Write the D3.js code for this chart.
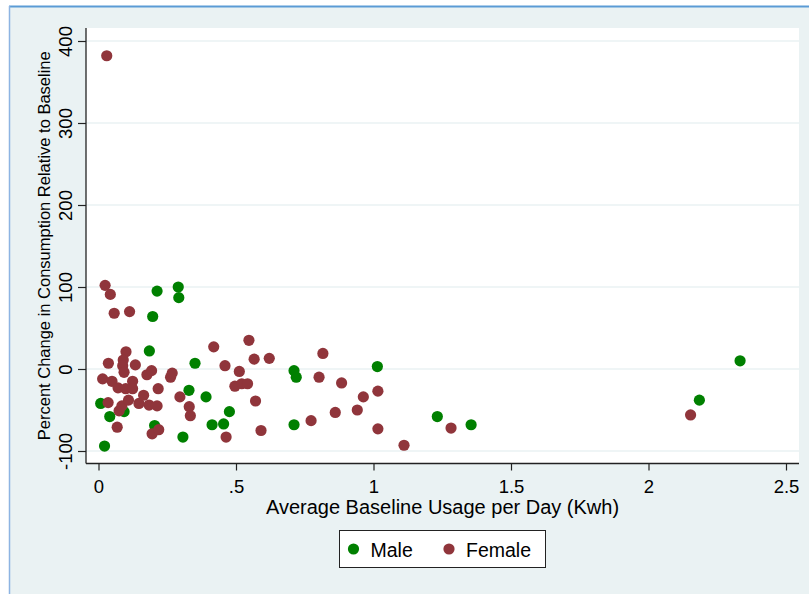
<!DOCTYPE html>
<meta charset="utf-8">
<head>
  <script src="https://cdn.jsdelivr.net/npm/d3@7/dist/d3.min.js"></script>
  <style>
    body { margin: 0; background: #fff; }
    svg { display: block; font-family: "Liberation Sans", Arial, sans-serif; }
    .tick text { fill: #000; }
  </style>
</head>
<body>
<script>

// Datos: [uso promedio (Kwh), cambio porcentual]
var male = [
  [0.008, -42], [0.022, -94], [0.041, -58], [0.093, -52], [0.185, 22],
  [0.197, 64], [0.213, 95], [0.290, 100], [0.292, 87], [0.351, 7],
  [0.329, -26], [0.204, -69], [0.307, -83], [0.391, -34], [0.413, -68],
  [0.455, -67], [0.476, -52], [0.711, -2], [0.719, -10], [0.711, -68],
  [1.014, 3], [1.232, -58], [1.355, -68], [2.185, -38], [2.333, 10]
];
var female = [
  [0.030, 382], [0.024, 102], [0.043, 91], [0.057, 68], [0.113, 70],
  [0.036, 7], [0.015, -12], [0.049, -15], [0.100, 21], [0.090, 11],
  [0.088, 4], [0.093, -4], [0.134, 5], [0.124, -15], [0.071, -23],
  [0.099, -24], [0.124, -24], [0.035, -41], [0.075, -51], [0.085, -45],
  [0.109, -38], [0.147, -42], [0.164, -32], [0.068, -71], [0.176, -7],
  [0.193, -2], [0.184, -44], [0.213, -45], [0.217, -24], [0.195, -79],
  [0.219, -74], [0.262, -10], [0.268, -5], [0.296, -34], [0.330, -46],
  [0.334, -57], [0.419, 27], [0.460, 4], [0.464, -83], [0.512, -3],
  [0.496, -21], [0.521, -18], [0.542, -18], [0.547, 35], [0.566, 12],
  [0.571, -39], [0.591, -75], [0.621, 13], [0.816, 19], [0.802, -10],
  [0.884, -17], [0.963, -34], [1.016, -27], [0.941, -50], [0.861, -53],
  [0.773, -63], [1.016, -73], [1.111, -93], [1.282, -72], [2.153, -56]
];
var xTicks = [0, 0.5, 1, 1.5, 2, 2.5];
var xTickLabels = ["0", ".5", "1", "1.5", "2", "2.5"];
var yTicks = [-100, 0, 100, 200, 300, 400];
var yTickLabels = ["-100", "0", "100", "200", "300", "400"];
var seriesNames = ["Male", "Female"];
var seriesColors = ["#008000", "#90353b"];

var W = 809, H = 594;
// caja del area de grafico
var plot = {left: 86, right: 799, top: 28, bottom: 463.5};

var svg = d3.select("body").append("svg")
  .attr("width", W).attr("height", H);

// fondo estilo Stata
svg.append("rect").attr("x", 9).attr("y", 6).attr("width", W).attr("height", H)
  .attr("fill", "#eaf2f3");
svg.append("line").attr("x1", 9).attr("x2", W).attr("y1", 6.5).attr("y2", 6.5)
  .attr("stroke", "#5b9bd5").attr("stroke-width", 2);
svg.append("line").attr("x1", 9.5).attr("x2", 9.5).attr("y1", 6).attr("y2", H)
  .attr("stroke", "#8db4e2").attr("stroke-width", 1.5);

svg.append("rect")
  .attr("x", plot.left).attr("y", plot.top)
  .attr("width", plot.right - plot.left).attr("height", plot.bottom - plot.top)
  .attr("fill", "#fff");

var xScale = d3.scaleLinear().domain([0, 2.5]).range([98.5, 786]);
var yScale = d3.scaleLinear().domain([-100, 400]).range([451, 41]);

// lineas de grilla
svg.append("g").selectAll("line")
  .data(yTicks)
  .enter().append("line")
  .attr("x1", plot.left).attr("x2", plot.right)
  .attr("y1", function(d) { return yScale(d); })
  .attr("y2", function(d) { return yScale(d); })
  .attr("stroke", "#eaf2f3").attr("stroke-width", 1.5);

// puntos: primero hombres, luego mujeres
[male, female].forEach(function(data, i) {
  svg.append("g").selectAll("circle")
    .data(data)
    .enter().append("circle")
    .attr("cx", function(d) { return xScale(d[0]); })
    .attr("cy", function(d) { return yScale(d[1]); })
    .attr("r", 5.6)
    .attr("fill", seriesColors[i]);
});

// eje y
var yAxis = d3.axisLeft(yScale).tickValues(yTicks).tickSize(8).tickSizeOuter(0)
  .tickFormat(function(d, i) { return yTickLabels[i]; });
var gy = svg.append("g")
  .attr("transform", "translate(" + plot.left + ",0)")
  .call(yAxis);
gy.select(".domain").remove();
gy.selectAll(".tick line").attr("stroke", "#222").attr("stroke-width", 1.2);
gy.selectAll(".tick text")
  .attr("transform", "rotate(-90)")
  .attr("x", 0).attr("y", -14).attr("dy", 0)
  .style("text-anchor", "middle")
  .style("font-size", "18.5px");
svg.append("line")
  .attr("x1", plot.left).attr("x2", plot.left)
  .attr("y1", plot.top).attr("y2", plot.bottom)
  .attr("stroke", "#222").attr("stroke-width", 1.3);

// eje x
var xAxis = d3.axisBottom(xScale).tickValues(xTicks).tickSize(7).tickSizeOuter(0)
  .tickFormat(function(d, i) { return xTickLabels[i]; });
var gx = svg.append("g")
  .attr("transform", "translate(0," + plot.bottom + ")")
  .call(xAxis);
gx.select(".domain").remove();
gx.selectAll(".tick line").attr("stroke", "#222").attr("stroke-width", 1.2);
gx.selectAll(".tick text")
  .attr("y", 29.5).attr("dy", 0)
  .style("font-size", "18.5px");
svg.append("line")
  .attr("x1", plot.left).attr("x2", plot.right)
  .attr("y1", plot.bottom).attr("y2", plot.bottom)
  .attr("stroke", "#222").attr("stroke-width", 1.3);

// titulos de ejes
svg.append("text")
  .attr("x", (plot.left + plot.right) / 2).attr("y", 513.5)
  .attr("text-anchor", "middle")
  .style("font-size", "20px")
  .text("Average Baseline Usage per Day (Kwh)");

svg.append("text")
  .attr("transform", "translate(50," + (plot.top + plot.bottom) / 2 + ") rotate(-90)")
  .attr("text-anchor", "middle")
  .style("font-size", "16.5px")
  .text("Percent Change in Consumption Relative to Baseline");

// leyenda
var legend = svg.append("g");
legend.append("rect")
  .attr("x", 339.5).attr("y", 530.5).attr("width", 206).attr("height", 37)
  .attr("fill", "#fff").attr("stroke", "#222").attr("stroke-width", 1);
var legendX = [353.5, 449];
seriesNames.forEach(function(name, i) {
  legend.append("circle")
    .attr("cx", legendX[i]).attr("cy", 549)
    .attr("r", 5.6).attr("fill", seriesColors[i]);
  legend.append("text")
    .attr("x", legendX[i] + 17).attr("y", 557)
    .style("font-size", "19.5px")
    .text(name);
});

</script>
</body>
